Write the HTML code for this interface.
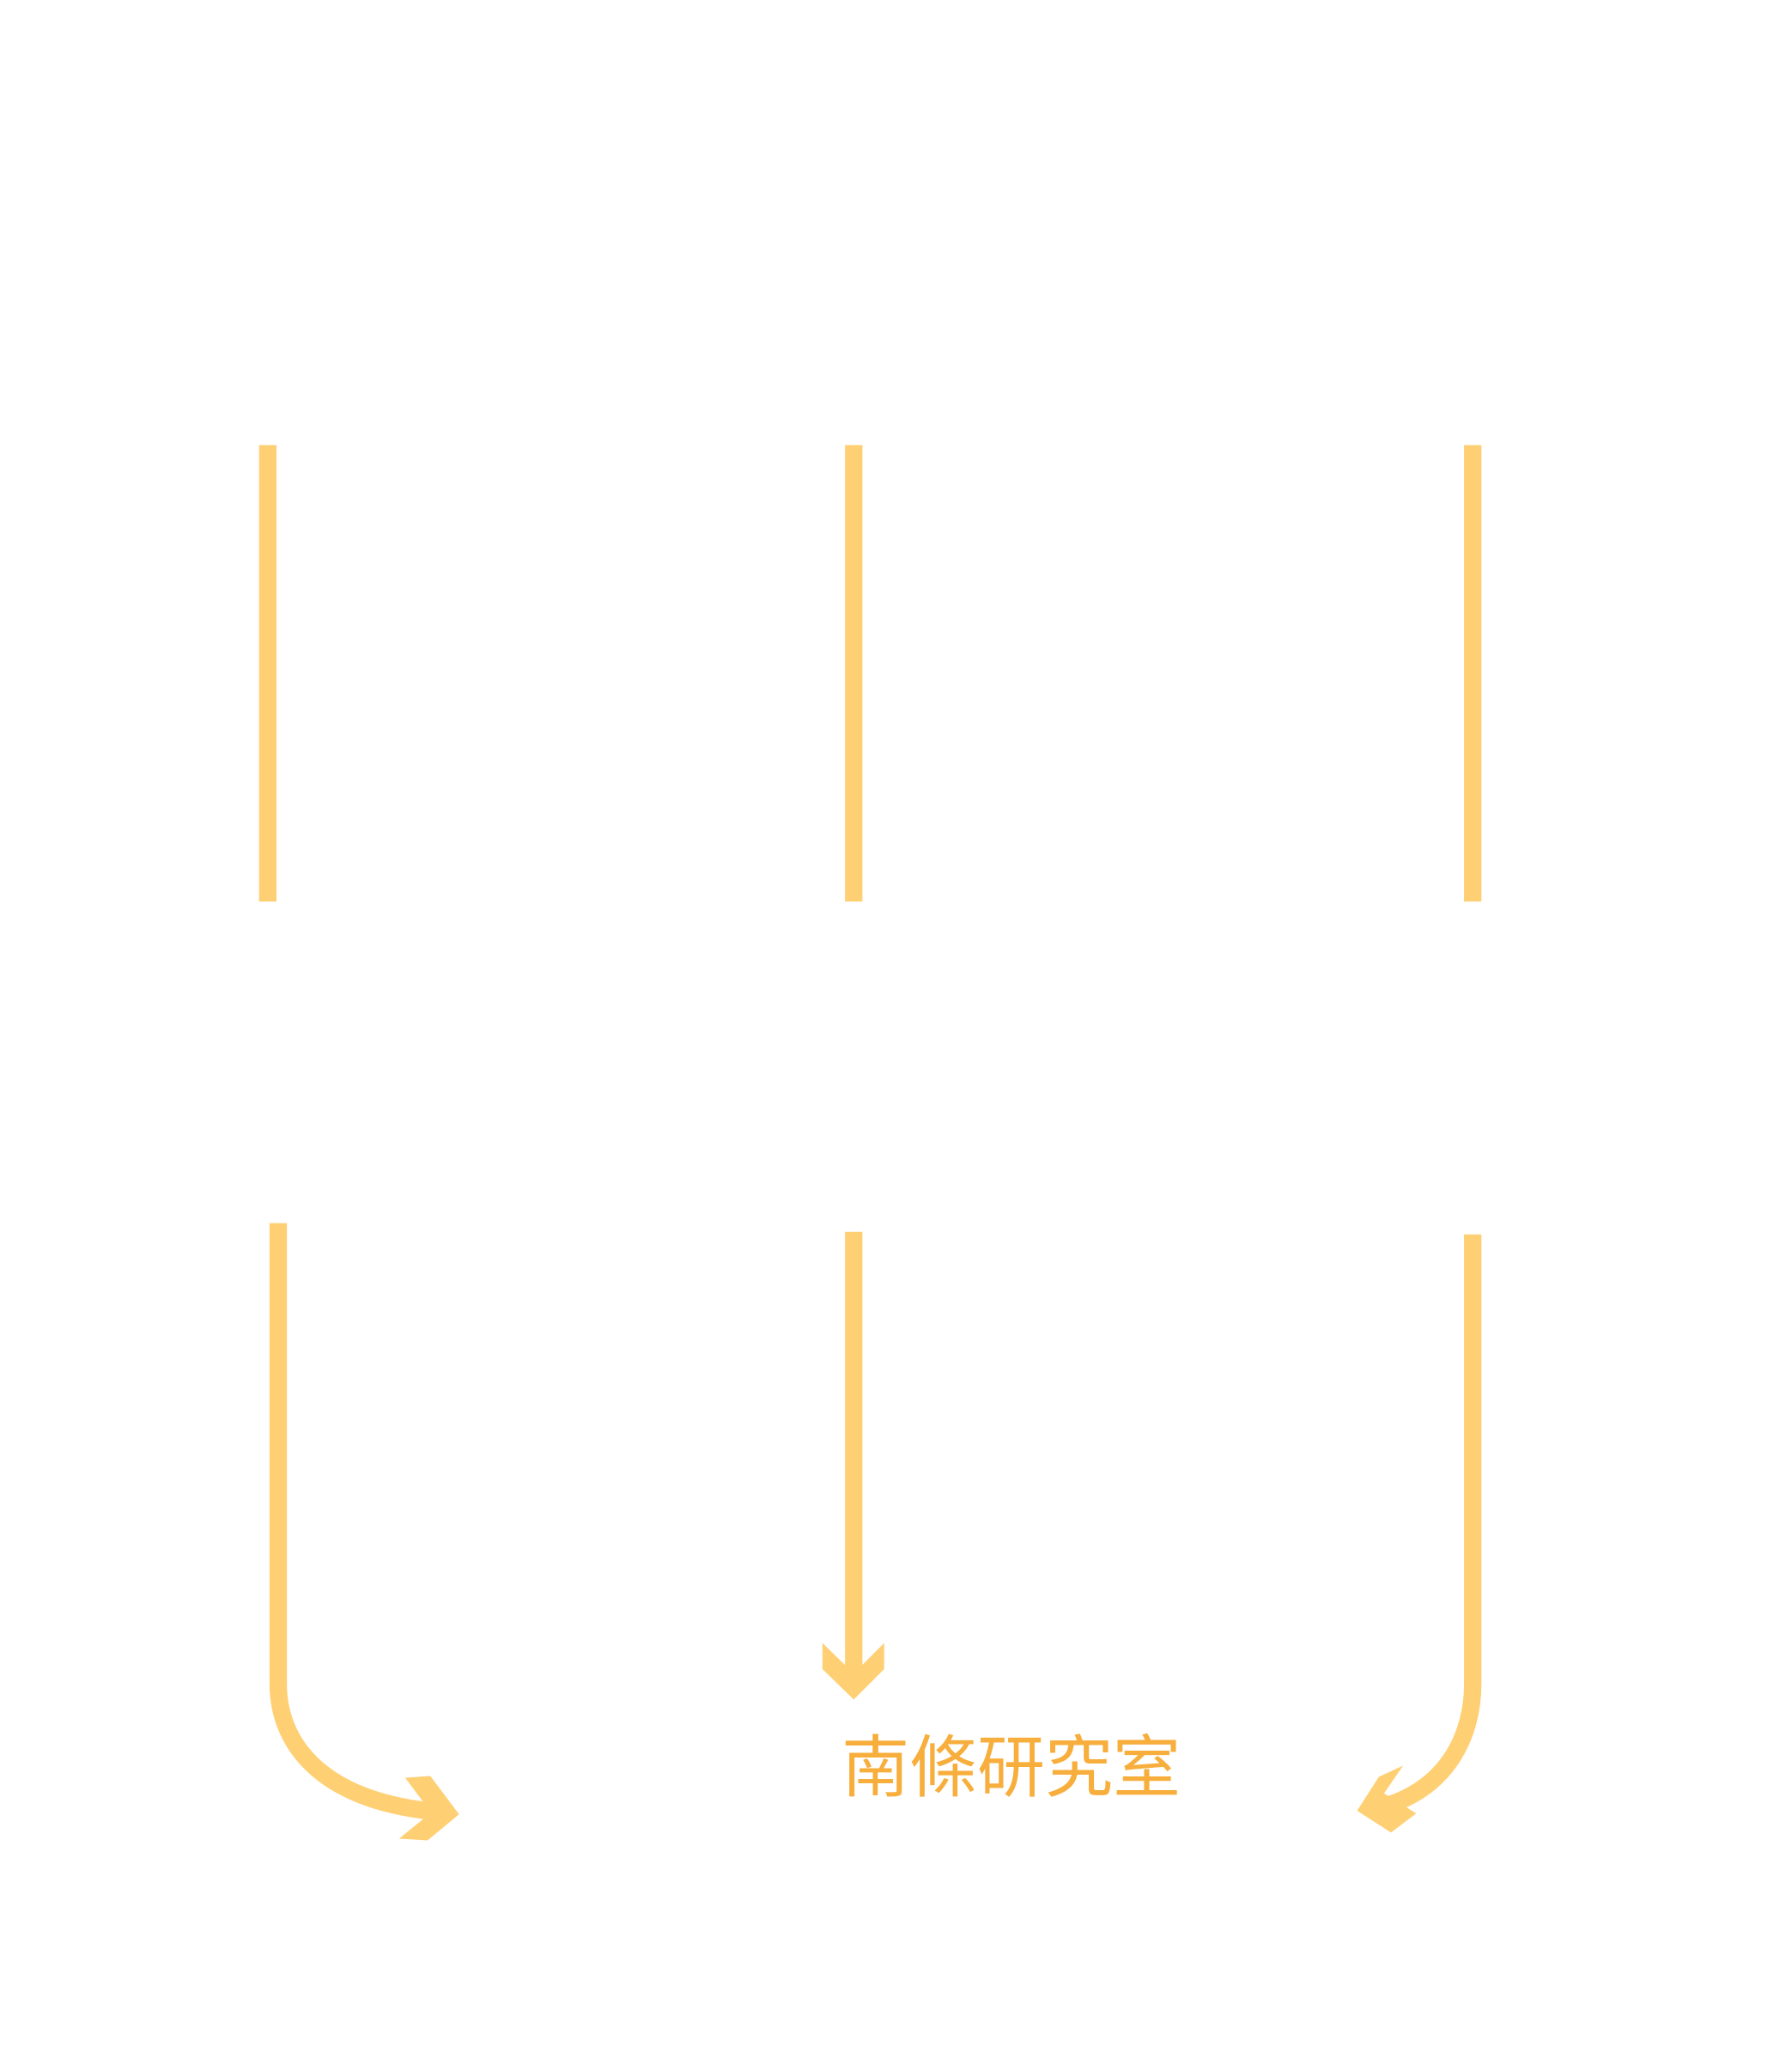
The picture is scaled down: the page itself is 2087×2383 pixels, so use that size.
<!DOCTYPE html>
<html><head><meta charset="utf-8"><style>
html,body{margin:0;padding:0;background:#fff;}
body{width:2087px;height:2383px;position:relative;overflow:hidden;}
</style></head><body>
<svg width="2087" height="2383" viewBox="0 0 2087 2383" xmlns="http://www.w3.org/2000/svg" style="position:absolute;left:0;top:0">
<g transform="scale(1.0125)">
<g stroke="#FFCF73" stroke-width="20" fill="none">
<line x1="308" y1="512" x2="308" y2="1037"/>
<line x1="982" y1="512" x2="982" y2="1037"/>
<line x1="1694" y1="512" x2="1694" y2="1037"/>
<path d="M320 1407 L320 1937 C320 2000 362 2070 500 2084"/>
<line x1="982" y1="1417" x2="982" y2="1935"/>
<path d="M1694 1420 L1694 1937 C1694 1990 1670 2058 1585 2080"/>
</g>
<g fill="#FFCF73">
<polygon points="466,2045 495,2043 528,2087 492,2117 459,2115 496,2085"/>
<polygon points="946,1890 982,1925 1017,1890 1017,1920 982,1955 946,1920"/>
<polygon points="1614,2031 1592,2063 1629,2086 1600,2108 1561,2083 1586,2044"/>
</g>
<text x="968" y="2060" font-family="'Liberation Sans','Noto Sans CJK TC',sans-serif" font-size="78" fill="#F7AE3C">南條研究室</text>
</g>
</svg>
</body></html>
